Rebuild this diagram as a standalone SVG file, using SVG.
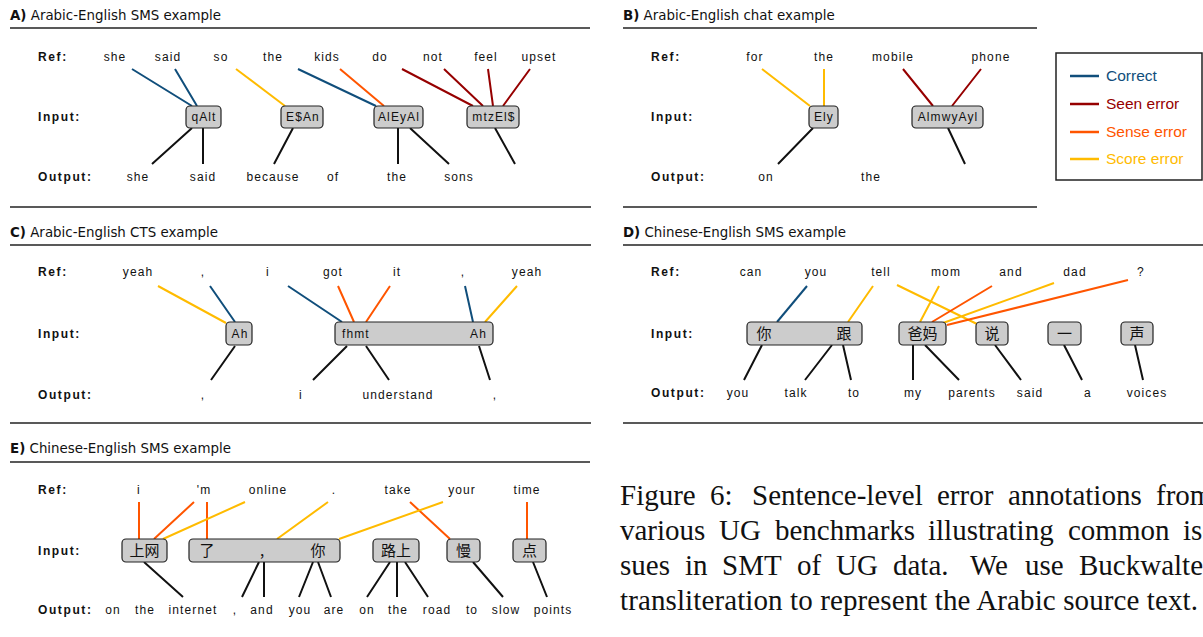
<svg xmlns="http://www.w3.org/2000/svg" width="1203" height="637" viewBox="0 0 1203 637">
  <style>
    .ttl { font-family: "DejaVu Sans", Verdana, sans-serif; font-size: 13.4px; fill: #111; }
    .ttl .b { font-weight: bold; }
    .lab { font-family: "Liberation Sans", Arial, sans-serif; font-size: 12px; font-weight: bold; letter-spacing: 1.6px; fill: #111; }
    .w { font-family: "Liberation Sans", Arial, sans-serif; font-size: 12px; letter-spacing: 1.1px; text-anchor: middle; fill: #111; }
    .cjk { font-family: "Noto Sans CJK SC", sans-serif; font-size: 15px; text-anchor: middle; fill: #111; }
    .box { fill: #cccccc; stroke: #222; stroke-width: 1.2; }
    .rule { stroke: #222; stroke-width: 1.6; fill: none; }
    .c, .s, .n, .r, .k { fill: none; stroke-width: 2; }
    .c { stroke: #104e7b; }
    .s { stroke: #960000; }
    .n { stroke: #ff5500; }
    .r { stroke: #ffbb00; }
    .k { stroke: #111; }
    .leg { font-family: "Liberation Sans", Arial, sans-serif; font-size: 15.5px; }
    .cap { font-family: "Liberation Serif", "Times New Roman", serif; font-size: 29px; fill: #111; }
  </style>

  <!-- rules -->
  <g id="rules">
    <line class="rule" x1="10" y1="28" x2="590" y2="28"/>
    <line class="rule" x1="10" y1="207" x2="591" y2="207"/>
    <line class="rule" x1="623" y1="28" x2="1037" y2="28"/>
    <line class="rule" x1="623" y1="207" x2="1037" y2="207"/>
    <line class="rule" x1="10" y1="245" x2="591" y2="245"/>
    <line class="rule" x1="10" y1="423" x2="591" y2="423"/>
    <line class="rule" x1="623" y1="245" x2="1203" y2="245"/>
    <line class="rule" x1="623" y1="423" x2="1203" y2="423"/>
    <line class="rule" x1="10" y1="462" x2="590" y2="462"/>
  </g>

  <!-- ===== A ===== -->
  <g id="panel-a">
    <text class="ttl" x="10" y="20"><tspan class="b">A)</tspan> Arabic-English SMS example</text>
    <text class="lab" x="38" y="61">Ref:</text>
    <text class="lab" x="38" y="121">Input:</text>
    <text class="lab" x="38" y="181">Output:</text>
    <g class="w">
      <text x="115" y="61">she</text><text x="168" y="61">said</text><text x="221" y="61">so</text>
      <text x="273" y="61">the</text><text x="327" y="61">kids</text><text x="380" y="61">do</text>
      <text x="433" y="61">not</text><text x="486" y="61">feel</text><text x="539" y="61">upset</text>
      <text x="138" y="181">she</text><text x="203" y="181">said</text><text x="273" y="181">because</text>
      <text x="333" y="181">of</text><text x="397" y="181">the</text><text x="459" y="181">sons</text>
    </g>
    <g id="a-links">
      <path class="c" d="M132,69 L192,106 M175,69 L197,106 M298,69 L376,106"/>
      <path class="r" d="M236,69 L285,106"/>
      <path class="n" d="M340,69 L384,106"/>
      <path class="s" d="M402,69 L473,106 M444,69 L483,106 M488,69 L493,106 M530,69 L503,106"/>
      <path class="k" d="M192,128 L152,164 M203,128 L203,164 M293,128 L274,164 M398,128 L398,164 M410,128 L449,164 M495,128 L515,164"/>
    </g>
    <g id="a-qAlt"><rect class="box" x="186" y="106" width="35" height="22" rx="4"/><text class="w" x="204" y="121">qAlt</text></g>
    <g id="a-EsAn"><rect class="box" x="281" y="106" width="42" height="22" rx="4"/><text class="w" x="303" y="121">E$An</text></g>
    <g id="a-AlEyAl"><rect class="box" x="374" y="106" width="49" height="22" rx="4"/><text class="w" x="399" y="121">AlEyAl</text></g>
    <g id="a-mtzEls"><rect class="box" x="467" y="106" width="52" height="22" rx="4"/><text class="w" x="494" y="121">mtzEl$</text></g>
  </g>

  <!-- ===== B ===== -->
  <g id="panel-b">
    <text class="ttl" x="623" y="20"><tspan class="b">B)</tspan> Arabic-English chat example</text>
    <text class="lab" x="651" y="61">Ref:</text>
    <text class="lab" x="651" y="121">Input:</text>
    <text class="lab" x="651" y="181">Output:</text>
    <g class="w">
      <text x="755" y="61">for</text><text x="824" y="61">the</text><text x="893" y="61">mobile</text><text x="991" y="61">phone</text>
      <text x="766" y="181">on</text><text x="871" y="181">the</text>
    </g>
    <g id="b-links">
      <path class="r" d="M762,69 L810,106 M824,69 L824,106"/>
      <path class="s" d="M903,69 L933,106 M981,69 L952,106"/>
      <path class="k" d="M813,128 L778,164 M948,128 L965,164"/>
    </g>
    <g id="b-Ely"><rect class="box" x="809" y="106" width="29" height="22" rx="4"/><text class="w" x="824" y="121">Ely</text></g>
    <g id="b-AlmwyAyl"><rect class="box" x="912" y="106" width="71" height="22" rx="4"/><text class="w" x="948" y="121">AlmwyAyl</text></g>
  </g>

  <!-- legend -->
  <g id="legend">
    <rect x="1056" y="53" width="146" height="127" fill="#fff" stroke="#222" stroke-width="1.5"/>
    <line x1="1070" y1="76" x2="1099" y2="76" stroke="#104e7b" stroke-width="2.5"/>
    <line x1="1070" y1="104" x2="1099" y2="104" stroke="#960000" stroke-width="2.5"/>
    <line x1="1070" y1="132" x2="1099" y2="132" stroke="#ff5500" stroke-width="2.5"/>
    <line x1="1070" y1="159" x2="1099" y2="159" stroke="#ffbb00" stroke-width="2.5"/>
    <text class="leg" x="1106" y="81" fill="#104e7b">Correct</text>
    <text class="leg" x="1106" y="109" fill="#960000">Seen error</text>
    <text class="leg" x="1106" y="137" fill="#ff5500">Sense error</text>
    <text class="leg" x="1106" y="164" fill="#ffbb00">Score error</text>
  </g>

  <!-- ===== C ===== -->
  <g id="panel-c">
    <text class="ttl" x="10" y="237"><tspan class="b">C)</tspan> Arabic-English CTS example</text>
    <text class="lab" x="38" y="276">Ref:</text>
    <text class="lab" x="38" y="338">Input:</text>
    <text class="lab" x="38" y="399">Output:</text>
    <g class="w">
      <text x="138" y="276">yeah</text><text x="203" y="276">,</text><text x="268" y="276">i</text>
      <text x="333" y="276">got</text><text x="397" y="276">it</text><text x="463" y="276">,</text><text x="527" y="276">yeah</text>
      <text x="203" y="399">,</text><text x="301" y="399">i</text><text x="398" y="399">understand</text><text x="495" y="399">,</text>
    </g>
    <g id="c-links">
      <path class="r" d="M158,286 L226,323 M517,286 L485,322"/>
      <path class="c" d="M210,286 L235,322 M288,286 L342,322 M465,286 L473,322"/>
      <path class="n" d="M338,286 L354,322 M390,286 L366,322"/>
      <path class="k" d="M235,346 L211,380 M347,346 L313,380 M366,346 L389,380 M479,346 L490,380"/>
    </g>
    <g id="c-Ah"><rect class="box" x="226" y="322" width="26" height="23" rx="4"/><text class="w" x="240" y="338">Ah</text></g>
    <g id="c-fhmt-Ah"><rect class="box" x="335" y="322" width="158" height="23" rx="4"/>
      <text class="w" x="342" y="338" style="text-anchor:start">fhmt</text>
      <text class="w" x="487" y="338" style="text-anchor:end">Ah</text></g>
  </g>

  <!-- ===== D ===== -->
  <g id="panel-d">
    <text class="ttl" x="623" y="237"><tspan class="b">D)</tspan> Chinese-English SMS example</text>
    <text class="lab" x="651" y="276">Ref:</text>
    <text class="lab" x="651" y="338">Input:</text>
    <text class="lab" x="651" y="397">Output:</text>
    <g class="w">
      <text x="751" y="276">can</text><text x="816" y="276">you</text><text x="881" y="276">tell</text>
      <text x="946" y="276">mom</text><text x="1011" y="276">and</text><text x="1075" y="276">dad</text><text x="1141" y="276">?</text>
      <text x="738" y="397">you</text><text x="796" y="397">talk</text><text x="854" y="397">to</text>
      <text x="913" y="397">my</text><text x="972" y="397">parents</text><text x="1030" y="397">said</text>
      <text x="1088" y="397">a</text><text x="1147" y="397">voices</text>
    </g>
    <g id="d-links">
      <path class="c" d="M807,286 L777,322"/>
      <path class="r" d="M873,286 L848,322 M897,285 L977,324 M939,286 L920,322 M1054,283 L943,323"/>
      <path class="n" d="M992,286 L932,322 M1128,280 L947,325"/>
      <path class="k" d="M762,345 L744,380 M832,345 L805,380 M843,345 L851,380 M913,345 L913,380 M925,345 L959,380 M995,345 L1021,380 M1064,345 L1082,380 M1135,345 L1143,380"/>
    </g>
    <g id="d-ni-gen"><rect class="box" x="747" y="322" width="115" height="23" rx="4"/>
      <text class="cjk" x="764" y="339">你</text><text class="cjk" x="844" y="339">跟</text></g>
    <g id="d-bama"><rect class="box" x="899" y="322" width="47" height="23" rx="4"/><text class="cjk" x="922.5" y="339">爸妈</text></g>
    <g id="d-shuo"><rect class="box" x="976" y="322" width="32" height="23" rx="4"/><text class="cjk" x="992" y="339">说</text></g>
    <g id="d-yi"><rect class="box" x="1048" y="322" width="33" height="23" rx="4"/><text class="cjk" x="1064.5" y="339">一</text></g>
    <g id="d-sheng"><rect class="box" x="1121" y="322" width="32" height="23" rx="4"/><text class="cjk" x="1137" y="339">声</text></g>
  </g>

  <!-- ===== E ===== -->
  <g id="panel-e">
    <text class="ttl" x="10" y="453"><tspan class="b">E)</tspan> Chinese-English SMS example</text>
    <text class="lab" x="38" y="494">Ref:</text>
    <text class="lab" x="38" y="555">Input:</text>
    <text class="lab" x="38" y="614">Output:</text>
    <g class="w">
      <text x="139" y="494">i</text><text x="204" y="494">'m</text><text x="268" y="494">online</text>
      <text x="334" y="494">.</text><text x="398" y="494">take</text><text x="462" y="494">your</text><text x="527" y="494">time</text>
      <text x="113" y="614">on</text><text x="145" y="614">the</text><text x="193" y="614">internet</text>
      <text x="235" y="614">,</text><text x="262" y="614">and</text><text x="300" y="614">you</text>
      <text x="334" y="614">are</text><text x="367" y="614">on</text><text x="398" y="614">the</text>
      <text x="437" y="614">road</text><text x="472" y="614">to</text><text x="506" y="614">slow</text><text x="553" y="614">points</text>
    </g>
    <g id="e-links">
      <path class="n" d="M139,502 L139,539 M194,502 L154,539 M207,502 L207,539 M410,502 L450,539 M527,502 L527,539"/>
      <path class="r" d="M245,502 L163,539 M328,502 L277,539 M443,502 L339,539"/>
      <path class="k" d="M144,562 L183,597 M259,562 L242,597 M264,562 L264,597 M313,562 L299,597 M318,562 L331,597 M390,562 L367,597 M397,562 L397,597 M405,562 L428,597 M473,562 L503,597 M533,562 L547,597"/>
    </g>
    <g id="e-shangwang"><rect class="box" x="122" y="539" width="45" height="23" rx="4"/><text class="cjk" x="144.5" y="556">上网</text></g>
    <g id="e-le-ni"><rect class="box" x="189" y="539" width="151" height="23" rx="4"/>
      <text class="cjk" x="207" y="556">了</text><text class="cjk" x="262" y="556">,</text><text class="cjk" x="318" y="556">你</text></g>
    <g id="e-lushang"><rect class="box" x="373" y="539" width="46" height="23" rx="4"/><text class="cjk" x="396" y="556">路上</text></g>
    <g id="e-man"><rect class="box" x="447" y="539" width="33" height="23" rx="4"/><text class="cjk" x="463.5" y="556">慢</text></g>
    <g id="e-dian"><rect class="box" x="513" y="539" width="33" height="23" rx="4"/><text class="cjk" x="529.5" y="556">点</text></g>
  </g>

  <!-- caption, justified word by word -->
  <g id="caption" class="cap">
    <text y="505"><tspan x="620">Figure</tspan><tspan x="710">6:</tspan><tspan x="752">Sentence-level</tspan><tspan x="937">error</tspan><tspan x="1008">annotations</tspan><tspan x="1156">from</tspan></text>
    <text y="540"><tspan x="620">various</tspan><tspan x="719">UG</tspan><tspan x="775">benchmarks</tspan><tspan x="928">illustrating</tspan><tspan x="1068">common</tspan><tspan x="1183">is-</tspan></text>
    <text y="575"><tspan x="620">sues</tspan><tspan x="685">in</tspan><tspan x="722">SMT</tspan><tspan x="797">of</tspan><tspan x="836">UG</tspan><tspan x="893">data.</tspan><tspan x="970">We</tspan><tspan x="1025">use</tspan><tspan x="1079">Buckwalter</tspan></text>
    <text x="620" y="610" textLength="578" lengthAdjust="spacing">transliteration to represent the Arabic source text.</text>
  </g>
</svg>
